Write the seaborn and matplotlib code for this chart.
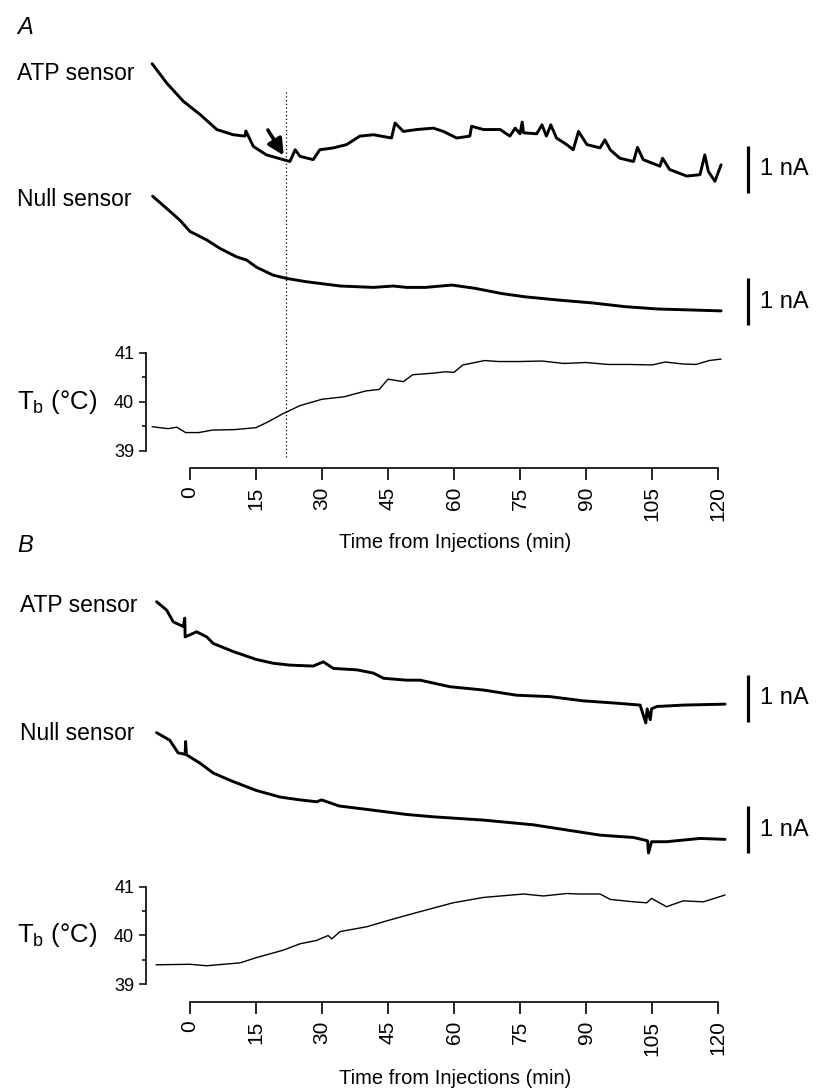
import matplotlib
matplotlib.use('Agg')
import matplotlib.pyplot as plt
import matplotlib.transforms as mtransforms
import seaborn as sns
import numpy as np

# ---- data (time in min, current in nA, Tb in degC) ----
# Panel A
atp_a_t = [-8.6, -5.3, -1.5, 2.3, 6.1, 9.8, 12.5, 12.7, 14.4, 17.4, 21.2, 22.7, 23.9, 25.0, 28.0,
           29.5, 32.6, 35.6, 38.6, 41.7, 45.8, 46.6, 48.5, 51.5, 55.3, 57.6, 60.6, 63.6, 64.0,
           66.7, 70.5, 72.7, 73.9, 75.0, 75.5, 75.8, 78.8, 80.0, 81.0, 82.0, 83.3, 85.6, 87.1,
           88.3, 90.2, 93.2, 94.3, 95.5, 97.7, 100.8, 101.7, 103.0, 106.8, 107.4, 109.0, 112.9,
           115.9, 117.0, 117.8, 119.3, 120.7]
atp_a_na = [2.75, 2.34, 1.95, 1.67, 1.35, 1.24, 1.21, 1.32, 0.99, 0.81, 0.71, 0.67, 0.92, 0.78, 0.71,
            0.92, 0.96, 1.03, 1.21, 1.24, 1.17, 1.49, 1.31, 1.35, 1.38, 1.31, 1.17, 1.21, 1.42,
            1.35, 1.35, 1.21, 1.38, 1.26, 1.51, 1.28, 1.26, 1.45, 1.21, 1.45, 1.17, 1.03, 0.92,
            1.31, 1.03, 0.96, 1.13, 0.92, 0.74, 0.67, 0.97, 0.71, 0.57, 0.74, 0.50, 0.36,
            0.39, 0.81, 0.46, 0.25, 0.60]

null_a_t = [-8.5, -5.3, -2.3, 0.0, 3.8, 6.8, 10.6, 12.9, 15.1, 18.9, 22.0, 26.5, 34.1, 41.7,
            46.2, 49.2, 53.5, 59.5, 64.8, 70.8, 76.1, 83.8, 91.4, 98.9, 106.4, 113.9, 120.7]
null_a_na = [2.74, 2.48, 2.23, 1.99, 1.81, 1.63, 1.45, 1.38, 1.23, 1.06, 0.99, 0.92, 0.83, 0.80,
             0.83, 0.80, 0.80, 0.85, 0.78, 0.67, 0.60, 0.53, 0.47, 0.39, 0.34, 0.32, 0.30]

tb_a_t = [-8.6, -5, -3, -1, 2, 5, 10, 15, 18, 21, 25, 30, 35, 40, 43, 45, 48.5, 50.6, 52, 55, 58,
          60, 62, 67, 70, 75, 80, 85, 90, 95, 100, 105, 108, 112, 115, 118, 120.7]
tb_a_c = [39.49, 39.45, 39.48, 39.37, 39.37, 39.42, 39.43, 39.47, 39.60, 39.75, 39.92, 40.05,
          40.10, 40.22, 40.25, 40.46, 40.41, 40.55, 40.56, 40.58, 40.61, 40.60, 40.75, 40.84,
          40.82, 40.82, 40.83, 40.78, 40.80, 40.76, 40.76, 40.75, 40.81, 40.77, 40.76, 40.84, 40.87]

# Panel B
atp_b_t = [-7.6, -5.3, -3.8, -1.5, -1.2, -1.1, 1.5, 3.8, 5.3, 9.8, 15.1, 18.9, 22.7, 28.0, 30.3,
           32.6, 37.9, 41.7, 44.0, 49.2, 52.3, 59.1, 66.7, 74.2, 81.8, 89.4, 97.0, 102.3, 103.6,
           103.9, 104.6, 104.9, 106.1, 112.2, 121.6]
atp_b_na = [2.56, 2.38, 2.13, 2.03, 2.21, 1.81, 1.92, 1.81, 1.67, 1.50, 1.33, 1.25, 1.21, 1.19, 1.28,
            1.14, 1.11, 1.04, 0.93, 0.89, 0.89, 0.75, 0.68, 0.57, 0.54, 0.45, 0.40, 0.36, -0.02,
            0.28, 0.05, 0.28, 0.33, 0.36, 0.38]

null_b_t = [-7.6, -4.6, -2.7, -1.1, -1.0, -0.8, 2.3, 5.3, 9.8, 15.1, 20.5, 25.0, 28.8, 29.9, 33.9,
            41.7, 49.2, 55.3, 66.7, 78.0, 85.6, 93.2, 100.8, 104.0, 104.2, 104.9, 108.3, 115.9, 121.6]
null_b_na = [2.56, 2.40, 2.13, 2.10, 2.37, 2.09, 1.91, 1.70, 1.52, 1.33, 1.19, 1.13, 1.09, 1.13, 1.00,
             0.91, 0.82, 0.77, 0.70, 0.60, 0.49, 0.38, 0.33, 0.26, 0.00, 0.24, 0.24, 0.31, 0.29]

tb_b_t = [-7.7, 0.0, 3.8, 11.4, 15.2, 21.2, 25.0, 28.8, 31.4, 32.2, 34.1, 40.2, 44.7, 51.5, 59.8,
          66.7, 75.8, 80.3, 85.6, 88.6, 93.2, 95.5, 100.8, 103.8, 104.9, 108.3, 112.1, 116.7, 121.6]
tb_b_c = [39.40, 39.41, 39.38, 39.44, 39.55, 39.70, 39.83, 39.90, 40.00, 39.93, 40.08, 40.18, 40.30,
          40.47, 40.67, 40.78, 40.85, 40.81, 40.86, 40.85, 40.85, 40.74, 40.69, 40.67, 40.76, 40.59,
          40.71, 40.69, 40.83]

event_t = 21.8          # dotted line / arrow in panel A
time_ticks = [0, 15, 30, 45, 60, 75, 90, 105, 120]
tb_ticks = [39, 40, 41]
tb_minor = [39.5, 40.5]

# ---- style ----
sns.set_style('ticks', {'axes.edgecolor': 'k', 'text.color': 'k',
                        'xtick.color': 'k', 'ytick.color': 'k'})
plt.rcParams['font.family'] = ['Liberation Sans', 'DejaVu Sans']
plt.rcParams['mathtext.fontset'] = 'custom'
plt.rcParams['mathtext.rm'] = 'Liberation Sans'

W, H = 825, 1089
NA_PX = 47.0   # pixels per nA
fig = plt.figure(figsize=(W / 100, H / 100), dpi=100)


def px_axes(left, top, width, height):
    return fig.add_axes([left / W, 1 - (top + height) / H, width / W, height / H])


def px_text(x, y, s, **kw):
    fig.text(x / W, 1 - y / H, s, **kw)


def current_axes(top, bottom, ref):
    ax = px_axes(146, top, 660, bottom - top)
    ax.set_xlim(-10, 140)
    ax.set_ylim((ref - bottom) / NA_PX, (ref - top) / NA_PX)
    ax.axis('off')
    return ax


def draw_current(ax, t, v):
    sns.lineplot(x=t, y=v, ax=ax, color='k', lw=2.1, estimator=None, sort=False)
    # 1 nA scale bar
    ax.plot([126.8, 126.8], [0, 1], color='k', lw=2.3, clip_on=False, solid_capstyle='butt')
    ax.text(129.5, 0.5, '1 nA', fontsize=17, va='center', ha='left')


def tb_axes(top, height, outward):
    ax = px_axes(146, top, 660, height)
    ax.set_xlim(-10, 140)
    ax.set_ylim(39, 41)
    sns.despine(ax=ax)
    ax.spines['bottom'].set_position(('outward', outward))
    ax.spines['bottom'].set_bounds(0, 120)
    ax.spines['left'].set_bounds(39, 41)
    for s in ('bottom', 'left'):
        ax.spines[s].set_linewidth(1.2)
    ax.set_xticks(time_ticks)
    ax.set_yticks(tb_ticks)
    ax.set_yticks(tb_minor, minor=True)
    ax.tick_params(axis='x', length=8.6, width=1.2, pad=4.5, labelsize=15, labelrotation=90)
    ax.tick_params(axis='y', which='major', length=5, width=1.1, pad=3.5, labelsize=13)
    ax.tick_params(axis='y', which='minor', length=3, width=1.1)
    ax.set_xlabel('')
    ax.set_ylabel('')
    return ax


# ---- panel A ----
ax = current_axes(50, 200, 193)
draw_current(ax, atp_a_t, atp_a_na)
ax.annotate('', xy=(21.3, 0.80), xytext=(17.7, 1.34),
            arrowprops=dict(arrowstyle='-|>', color='k', lw=2.6, mutation_scale=24,
                            shrinkA=0, shrinkB=0))
ax = current_axes(180, 330, 325)
draw_current(ax, null_a_t, null_a_na)

ax = tb_axes(352.7, 98, 12.5)
sns.lineplot(x=tb_a_t, y=tb_a_c, ax=ax, color='k', lw=1.0, estimator=None, sort=False)
trans = mtransforms.blended_transform_factory(ax.transData, fig.transFigure)
ax.plot([event_t, event_t], [1 - 457 / H, 1 - 92 / H], transform=trans, color='k',
        lw=0.9, ls=(0, (1, 2)), clip_on=False)

px_text(17, 28, 'A', fontsize=17, style='italic', va='center')
px_text(17, 73, 'ATP sensor', fontsize=16.5, va='center')
px_text(17, 199, 'Null sensor', fontsize=16.5, va='center')
px_text(17, 402, r'T$_\mathregular{b}$ (°C)', fontsize=18.5, va='center')
px_text(455, 543, 'Time from Injections (min)', fontsize=14.5, va='center', ha='center')

# ---- panel B ----
ax = current_axes(580, 730, 722)
draw_current(ax, atp_b_t, atp_b_na)
ax = current_axes(710, 860, 853)
draw_current(ax, null_b_t, null_b_na)

ax = tb_axes(886.7, 97.6, 13)
sns.lineplot(x=tb_b_t, y=tb_b_c, ax=ax, color='k', lw=1.0, estimator=None, sort=False)

px_text(17, 546, 'B', fontsize=17, style='italic', va='center')
px_text(20, 606, 'ATP sensor', fontsize=16.5, va='center')
px_text(20, 733, 'Null sensor', fontsize=16.5, va='center')
px_text(17, 935, r'T$_\mathregular{b}$ (°C)', fontsize=18.5, va='center')
px_text(455, 1078, 'Time from Injections (min)', fontsize=14.5, va='center', ha='center')

fig.savefig('out.png', dpi=100, facecolor='white')
